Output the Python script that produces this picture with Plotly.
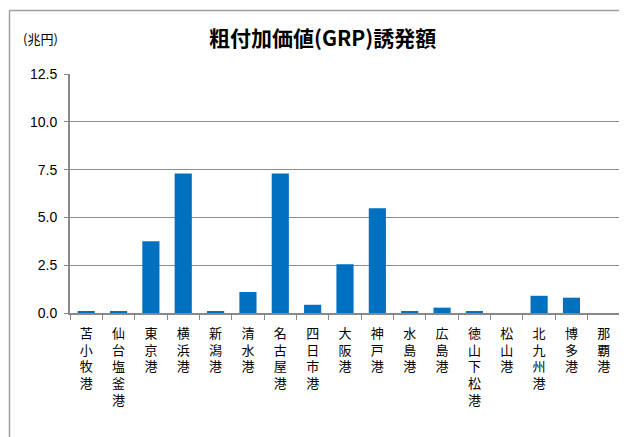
import plotly.graph_objects as go

ports = ["苫小牧港", "仙台塩釜港", "東京港", "横浜港", "新潟港", "清水港", "名古屋港", "四日市港",
         "大阪港", "神戸港", "水島港", "広島港", "徳山下松港", "松山港", "北九州港", "博多港", "那覇港"]
grp = [0.07, 0.07, 3.75, 7.3, 0.07, 1.1, 7.3, 0.43, 2.55, 5.48, 0.07, 0.28, 0.07, 0.0, 0.9, 0.8, 0.0]
y_ticks = [0, 2.5, 5, 7.5, 10, 12.5]
y_tick_labels = ["0.0", "2.5", "5.0", "7.5", "10.0", "12.5"]
title_text = "粗付加価値(GRP)誘発額"
unit_text = "(兆円)"

labels = ["<br>".join(list(p)) for p in ports]

# page offset (body margin) compensation
OFF = 8
W, H = 627, 437
L, R, T, B = 70 - OFF, 7 + OFF, 74 - OFF, 124 + OFF
pw, ph = W - L - R, H - T - B

def px_x(x):
    return (x - OFF - L) / pw

def px_y(y):
    return (H - B - (y - OFF)) / ph

fig = go.Figure(go.Bar(x=labels, y=grp, marker_color="#0070C0", marker_line_width=0))

fig.update_layout(
    width=W, height=H,
    margin=dict(l=L, r=R, t=T, b=B, autoexpand=False),
    paper_bgcolor="white", plot_bgcolor="white",
    bargap=0.47,
    showlegend=False,
    font=dict(family="Noto Sans CJK JP", color="#000000"),
    xaxis=dict(
        type="category", tickson="boundaries", ticks="outside", ticklen=5,
        tickcolor="#888888", tickwidth=1,
        showline=True, linecolor="#888888", linewidth=2,
        tickangle=0, tickfont=dict(size=13, family="Noto Sans CJK JP", color="#000000"),
        ticklabelstandoff=7,
        showgrid=False,
    ),
    yaxis=dict(
        range=[0, 12.5], tickvals=y_ticks, ticktext=y_tick_labels,
        ticks="outside", ticklen=4, tickcolor="#888888",
        showline=True, linecolor="#888888", linewidth=2,
        showgrid=True, gridcolor="#8c8c8c", gridwidth=1,
        tickfont=dict(size=14, family="Liberation Sans", color="#000000"),
        ticklabelstandoff=4,
        zeroline=False,
    ),
    annotations=[
        dict(text="<b>" + title_text + "</b>", xref="paper", yref="paper",
             x=px_x(322), y=px_y(37), xanchor="center", yanchor="middle",
             showarrow=False, font=dict(size=21, family="Noto Sans CJK JP", color="#000000")),
        dict(text=unit_text, xref="paper", yref="paper",
             x=px_x(21), y=px_y(38), xanchor="left", yanchor="middle",
             showarrow=False, font=dict(size=13, family="Noto Sans CJK JP", color="#000000")),
    ],
    shapes=[
        dict(type="line", xref="paper", yref="paper", x0=px_x(9.5), x1=px_x(660),
             y0=px_y(10.5), y1=px_y(10.5), line=dict(color="#a0a0a0", width=1.5)),
        dict(type="line", xref="paper", yref="paper", x0=px_x(9.5), x1=px_x(9.5),
             y0=px_y(10.5), y1=px_y(470), line=dict(color="#a0a0a0", width=1.5)),
    ],
)

fig.write_html("out.html")
